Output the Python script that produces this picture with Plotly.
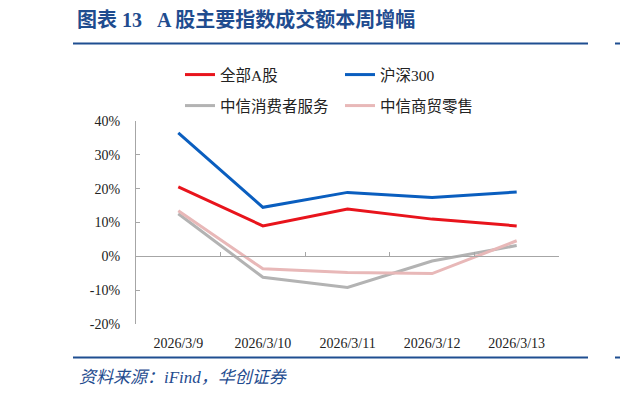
import plotly.graph_objects as go

dates = ["2026/3/9", "2026/3/10", "2026/3/11", "2026/3/12", "2026/3/13"]
all_a = [20.5, 9.0, 14.0, 11.0, 9.0]
hs300 = [36.5, 14.5, 18.9, 17.4, 19.0]
consumer_services = [12.6, -6.2, -9.2, -1.4, 3.2]
retail = [13.5, -3.7, -4.8, -5.1, 4.6]
y_ticks = [-20, -10, 0, 10, 20, 30, 40]
y_ticktext = ["-20%", "-10%", "0%", "10%", "20%", "30%", "40%"]

W, H = 620, 399
L, R, T, B = 136, 559, 121, 324
pw, ph = R - L, B - T

def px_x(x):
    return (x - L) / pw

def px_y(y):
    return (B - y) / ph

xs = list(range(len(dates)))
SERIF = "Liberation Serif, Noto Sans CJK SC"
BLUE_T = "#1F4C8F"
AX = "#A6A6A6"

fig = go.Figure()
fig.add_trace(go.Scatter(x=xs, y=all_a, name="全部A股", mode="lines",
                         line=dict(color="#E8141C", width=3), legend="legend"))
fig.add_trace(go.Scatter(x=xs, y=hs300, name="沪深300", mode="lines",
                         line=dict(color="#0A5EBF", width=3), legend="legend"))
fig.add_trace(go.Scatter(x=xs, y=consumer_services, name="中信消费者服务", mode="lines",
                         line=dict(color="#B3B3B3", width=3), legend="legend2"))
fig.add_trace(go.Scatter(x=xs, y=retail, name="中信商贸零售", mode="lines",
                         line=dict(color="#E8B8B8", width=3), legend="legend2"))
# invisible trace to carry the zero-line axis
fig.add_trace(go.Scatter(x=[xs[0], xs[-1]], y=[None, None], xaxis="x2", yaxis="y",
                         showlegend=False, hoverinfo="skip", mode="lines"))

ymin, ymax = y_ticks[0], y_ticks[-1]
zero_pos = (0 - ymin) / (ymax - ymin)
boundaries = [i - 0.5 for i in range(len(dates) + 1)]

fig.update_layout(
    width=W, height=H,
    margin=dict(l=L, r=W - R, t=T, b=H - B, autoexpand=False),
    paper_bgcolor="white", plot_bgcolor="white",
    title=dict(text="<b>图表 13   A 股主要指数成交额本周增幅</b>",
               font=dict(family=SERIF, size=20, color=BLUE_T),
               x=77 / W, xanchor="left", xref="container",
               y=1 - 20 / H, yanchor="middle", yref="container"),
    xaxis=dict(range=[-0.5, len(dates) - 0.5], tickvals=xs, ticktext=dates,
               showline=False, showgrid=False, zeroline=False, ticks="",
               ticklabelstandoff=9,
               tickfont=dict(family="Liberation Serif", size=14, color="#222")),
    xaxis2=dict(overlaying="x", matches="x", anchor="free", position=zero_pos,
                side="bottom", showline=True, linecolor=AX, linewidth=1,
                ticks="inside", ticklen=4, tickcolor=AX, tickvals=boundaries,
                showticklabels=False, showgrid=False, zeroline=False),
    yaxis=dict(range=[ymin, ymax], tickvals=y_ticks, ticktext=y_ticktext,
               showline=True, linecolor=AX, linewidth=1, ticks="inside",
               ticklen=4, tickcolor=AX, showgrid=False, zeroline=False,
               ticklabelstandoff=12,
               tickfont=dict(family="Liberation Serif", size=14, color="#222")),
    legend=dict(orientation="h", xref="container", yref="container",
                x=180 / W, xanchor="left", y=1 - 58 / H, yanchor="top",
                entrywidth=115, entrywidthmode="pixels",
                font=dict(family=SERIF, size=15.5, color="#222"),
                bgcolor="rgba(0,0,0,0)"),
    legend2=dict(orientation="h", xref="container", yref="container",
                 x=180 / W, xanchor="left", y=1 - 89 / H, yanchor="top",
                 entrywidth=115, entrywidthmode="pixels",
                 font=dict(family=SERIF, size=15.5, color="#222"),
                 bgcolor="rgba(0,0,0,0)"),
    showlegend=True,
)

fig.add_annotation(text="<i>资料来源：iFind，华创证券</i>", xref="paper", yref="paper",
                   x=px_x(77), y=px_y(377), xanchor="left", yanchor="middle",
                   showarrow=False, font=dict(family=SERIF, size=17, color=BLUE_T))

for yy in (43.5, 357.5):
    fig.add_shape(type="line", xref="paper", yref="paper",
                  x0=px_x(73), x1=px_x(588), y0=px_y(yy), y1=px_y(yy),
                  line=dict(color="#1F4E91", width=2))
    fig.add_shape(type="line", xref="paper", yref="paper",
                  x0=px_x(615), x1=px_x(622), y0=px_y(yy), y1=px_y(yy),
                  line=dict(color="#1F4E91", width=2))

fig.write_html("out.html")
